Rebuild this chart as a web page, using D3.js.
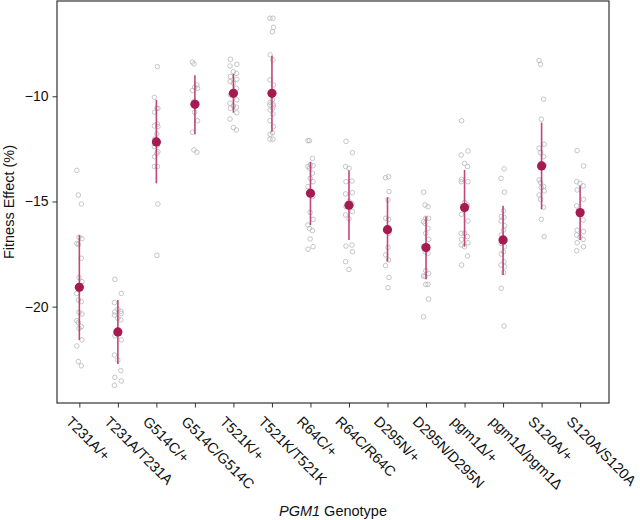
<!DOCTYPE html>
<html>
<head>
<meta charset="utf-8">
<script src="https://cdn.jsdelivr.net/npm/d3@7"></script>
<style>
  html, body { margin: 0; padding: 0; background: #fff; }
  svg text { font-family: "Liberation Sans", Arial, Helvetica, sans-serif; fill: #111; }
</style>
</head>
<body>
<svg id="chart" width="640" height="520"></svg>
<script>
const categories = ["T231A/+", "T231A/T231A", "G514C/+", "G514C/G514C", "T521K/+", "T521K/T521K",
  "R64C/+", "R64C/R64C", "D295N/+", "D295N/D295N", "pgm1\u0394/+", "pgm1\u0394/pgm1\u0394", "S120A/+", "S120A/S120A"];

const means  = [-19.08, -21.20, -12.17, -10.38, -9.86, -9.86, -14.61, -15.18, -16.34, -17.19, -15.29, -16.83, -13.31, -15.53];
const ciHigh = [-16.60, -19.68, -10.17, -9.00, -8.94, -8.07, -13.11, -13.53, -14.80, -15.72, -13.50, -15.20, -11.25, -14.25];
const ciLow  = [-21.58, -22.73, -14.14, -11.81, -10.78, -11.68, -16.12, -16.83, -17.86, -18.70, -17.15, -18.49, -15.37, -16.83];

const replicates = [
  [-13.52, -14.69, -15.12, -16.70, -16.77, -16.99, -17.04, -17.70, -18.61, -18.81, -19.37, -19.68, -19.76, -20.27, -20.35, -20.67, -20.76, -20.95, -21.03, -21.58, -21.87, -22.61, -22.81],
  [-18.70, -19.37, -19.81, -20.13, -20.22, -20.25, -20.32, -20.40, -20.55, -20.63, -21.39, -21.58, -22.30, -22.54, -23.04, -23.36, -23.53, -23.74],
  [-8.59, -10.05, -10.57, -10.57, -10.76, -11.32, -11.41, -11.44, -11.79, -12.04, -12.31, -12.39, -12.63, -12.71, -12.87, -13.34, -13.34, -15.12, -17.56],
  [-8.37, -8.46, -9.46, -9.57, -9.62, -9.73, -10.25, -10.33, -10.76, -11.16, -11.71, -12.55, -12.66],
  [-8.24, -8.48, -8.56, -8.83, -8.91, -9.06, -9.19, -9.30, -9.38, -9.62, -9.94, -10.17, -10.33, -10.46, -10.52, -10.57, -10.78, -11.08, -11.49, -11.60],
  [-6.29, -6.29, -6.72, -6.93, -8.03, -8.27, -9.22, -9.46, -10.17, -10.30, -10.36, -10.41, -10.46, -10.57, -10.65, -10.84, -11.16, -11.44, -11.73, -11.81, -12.04, -12.04],
  [-12.11, -12.11, -12.95, -13.26, -13.30, -13.34, -13.42, -13.66, -13.90, -14.06, -14.29, -14.53, -14.77, -15.52, -15.85, -16.12, -16.28, -16.39, -16.78, -17.15, -17.27],
  [-12.14, -12.68, -13.34, -13.42, -14.03, -14.06, -14.58, -14.64, -15.01, -15.09, -15.25, -15.48, -15.64, -15.83, -17.07, -17.12, -17.39, -17.86, -18.23],
  [-13.82, -13.87, -14.53, -14.93, -15.80, -15.85, -16.36, -16.51, -17.18, -17.54, -17.78, -18.05, -18.61, -19.10],
  [-14.56, -15.17, -15.25, -15.80, -15.80, -15.96, -16.04, -16.28, -16.51, -16.80, -17.15, -17.39, -17.46, -18.29, -18.42, -18.54, -18.57, -18.94, -18.94, -19.64, -20.48],
  [-11.16, -12.60, -12.79, -13.19, -13.34, -13.95, -14.06, -14.06, -15.04, -15.17, -15.61, -15.93, -16.51, -16.51, -16.67, -16.80, -16.96, -17.07, -17.15, -17.59, -18.02],
  [-13.45, -13.90, -14.56, -15.44, -15.72, -15.75, -15.93, -16.15, -16.36, -16.59, -16.83, -16.99, -17.15, -17.39, -17.50, -17.86, -18.02, -18.10, -18.38, -19.13, -20.92],
  [-8.30, -8.48, -10.14, -11.09, -12.28, -12.47, -12.68, -12.87, -13.19, -13.26, -13.98, -14.10, -14.29, -14.33, -14.50, -14.69, -14.90, -15.28, -15.85, -16.67],
  [-12.58, -13.31, -14.06, -14.14, -14.26, -14.45, -14.90, -15.21, -15.56, -15.88, -16.36, -16.43, -16.59, -16.70, -16.80, -16.96, -17.15, -17.34]
];

const yTicks = [-20, -15, -10];
const yLabel = "Fitness Effect (%)";

const svg = d3.select("#chart");
const L = 57, R = 609, T = 1, B = 403;

const x = d3.scaleLinear().domain([-0.58, categories.length - 1 + 0.75]).range([L, R]);
const y = d3.scaleLinear().domain([-24.58, -5.47]).range([B, T]);

// deterministic strip jitter (pixels)
const jitterPattern = [-2.5, 1.5, 3, -1, 0.5, -3, 2, -1.8, 3.4, -0.3, 1, -3.4, 2.6, -2, 0];
const jit = (i, k) => jitterPattern[(i * 3 + k * 5) % jitterPattern.length];

// replicate points
const g = svg.append("g");
replicates.forEach((vals, k) => {
  g.selectAll(null).data(vals).enter().append("circle")
    .attr("cx", (d, i) => x(k) + jit(i, k))
    .attr("cy", d => y(d))
    .attr("r", 2.3)
    .attr("fill", "none")
    .attr("stroke", "#b8b8b8")
    .attr("stroke-width", 0.8);
});

// error bars
svg.append("g").selectAll("line").data(categories).enter().append("line")
  .attr("x1", (d, i) => x(i)).attr("x2", (d, i) => x(i))
  .attr("y1", (d, i) => y(ciHigh[i])).attr("y2", (d, i) => y(ciLow[i]))
  .attr("stroke", "#b8336a").attr("stroke-width", 1.6).attr("stroke-opacity", 0.9);

// means
svg.append("g").selectAll("circle").data(means).enter().append("circle")
  .attr("cx", (d, i) => x(i)).attr("cy", d => y(d))
  .attr("r", 4.6).attr("fill", "#a51b51");

// frame
svg.append("rect").attr("x", L).attr("y", T).attr("width", R - L).attr("height", B - T)
  .attr("fill", "none").attr("stroke", "#333").attr("stroke-width", 1.2);

// y axis
const yAxis = d3.axisLeft(y).tickValues(yTicks).tickSize(4.5).tickPadding(4)
  .tickFormat(d => d3.format("d")(d).replace("-", "\u2212"));
const ya = svg.append("g").attr("transform", `translate(${L},0)`).call(yAxis);
ya.select(".domain").remove();
ya.selectAll("line").attr("stroke", "#333").attr("stroke-width", 1);
ya.selectAll("text").attr("font-size", 14).attr("fill", "#111")
  .style("font-family", '"Liberation Sans", Arial, sans-serif');

// x axis
const xAxis = d3.axisBottom(x).tickValues(d3.range(categories.length)).tickSize(4.5).tickFormat("");
const xa = svg.append("g").attr("transform", `translate(0,${B})`).call(xAxis);
xa.select(".domain").remove();
xa.selectAll("line").attr("stroke", "#333").attr("stroke-width", 1);

svg.append("g").selectAll("text").data(categories).enter().append("text")
  .attr("transform", (d, i) => `translate(${x(i) - 7},${B + 12}) rotate(45)`)
  .attr("dy", "0.72em")
  .attr("text-anchor", "start")
  .attr("font-size", 14.5)
  .text(d => d);

// axis titles
svg.append("text")
  .attr("transform", `translate(14,${(T + B) / 2}) rotate(-90)`)
  .attr("text-anchor", "middle")
  .attr("font-size", 14.5)
  .text(yLabel);

const xt = svg.append("text")
  .attr("x", (L + R) / 2).attr("y", 516)
  .attr("text-anchor", "middle")
  .attr("font-size", 14.5);
xt.append("tspan").attr("font-style", "italic").text("PGM1");
xt.append("tspan").text(" Genotype");
</script>
</body>
</html>
